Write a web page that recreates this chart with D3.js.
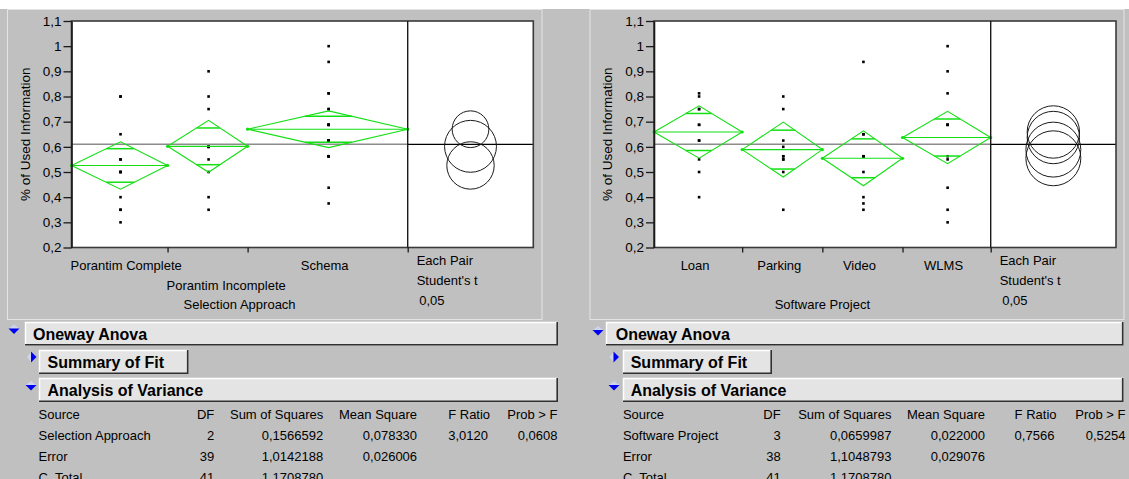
<!DOCTYPE html>
<html>
<head>
<meta charset="utf-8">
<script src="https://cdn.jsdelivr.net/npm/d3@7"></script>
<style>
  html, body { margin: 0; padding: 0; background: #c0c0c0; }
  svg { display: block; }
  text { font-family: "Liberation Sans", Arial, sans-serif; fill: #000; }
</style>
</head>
<body>
<svg id="chart" width="1129" height="479"></svg>
<script>
// ---- Selection Approach ----
const groupsA = ["Porantim Complete", "Porantim Incomplete", "Schema"];
const countsA = [12, 10, 20];
const meansA = [0.526, 0.602, 0.670];
const pointsA = [
  [0.8, 0.8, 0.65, 0.55, 0.55, 0.5, 0.5, 0.5, 0.4, 0.35, 0.35, 0.3],
  [0.9, 0.8, 0.75, 0.6, 0.6, 0.6, 0.55, 0.5, 0.4, 0.35],
  [1.0, 0.9375, 0.8125, 0.8125, 0.75, 0.75, 0.6875, 0.6875, 0.6875, 0.6875,
   0.625, 0.625, 0.625, 0.625, 0.5625, 0.5625, 0.5625, 0.5625, 0.4375, 0.375]
];
const mseA = 0.026006;
const tCritA = 2.0227;
const grandMeanA = 0.61;

// ---- Software Project ----
const groupsB = ["Loan", "Parking", "Video", "WLMS"];
const countsB = [11, 10, 10, 11];
const meansB = [0.659, 0.589, 0.5545, 0.637];
const pointsB = [
  [0.8125, 0.8, 0.75, 0.75, 0.6875, 0.6875, 0.625, 0.625, 0.55, 0.5, 0.4],
  [0.8, 0.75, 0.625, 0.6, 0.5625, 0.5625, 0.55, 0.55, 0.5, 0.35],
  [0.9375, 0.65, 0.65, 0.5625, 0.5625, 0.5625, 0.5, 0.4, 0.375, 0.35],
  [1.0, 0.9, 0.8125, 0.6875, 0.6875, 0.6875, 0.5625, 0.55, 0.4375, 0.35, 0.3]
];
const mseB = 0.029076;
const tCritB = 2.0244;
const grandMeanB = 0.61;

// ---- axis ticks ----
const yTicks = [0.2, 0.3, 0.4, 0.5, 0.6, 0.7, 0.8, 0.9, 1.0, 1.1];
const yTitle = "% of Used Information";
const compareLabels = ["Each Pair", "Student's t", "0,05"];

// ---- ANOVA tables ----
const anovaHeader = ["Source", "DF", "Sum of Squares", "Mean Square", "F Ratio", "Prob > F"];
const anovaRowsA = [
  ["Selection Approach", "2", "0,1566592", "0,078330", "3,0120", "0,0608"],
  ["Error", "39", "1,0142188", "0,026006", "", ""],
  ["C. Total", "41", "1,1708780", "", "", ""]
];
const anovaRowsB = [
  ["Software Project", "3", "0,0659987", "0,022000", "0,7566", "0,5254"],
  ["Error", "38", "1,1048793", "0,029076", "", ""],
  ["C. Total", "41", "1,1708780", "", "", ""]
];

const svg = d3.select("#chart");
const W = 1129, H = 479;
const GREEN = "#12e012";
const fmtComma = v => d3.format(".1~f")(v).replace(".", ",");

// page background
svg.append("rect").attr("width", W).attr("height", H).attr("fill", "#c0c0c0");
svg.append("rect").attr("width", W).attr("height", 9).attr("fill", "#ffffff");

function drawPanel(cfg) {
  const g = svg.append("g");
  // panel outline
  g.append("rect")
    .attr("x", cfg.frameX + 0.5).attr("y", 9.5)
    .attr("width", cfg.frameW).attr("height", 310)
    .attr("fill", "none").attr("stroke", "#e4e4e4").attr("stroke-width", 1);

  const top = 21, bottom = 247.5;
  const total = d3.sum(cfg.counts);
  const x = d3.scaleLinear().domain([0, total]).range([cfg.left, cfg.divider]);
  const y = d3.scaleLinear().domain([0.2, 1.1]).range([bottom, top]);

  // plot background
  g.append("rect")
    .attr("x", cfg.left).attr("y", top)
    .attr("width", cfg.right - cfg.left).attr("height", bottom - top)
    .attr("fill", "#ffffff");

  const cum = [0];
  cfg.counts.forEach((n, i) => cum.push(cum[i] + n));
  const cats = cfg.groups.map((name, i) => {
    const n = cfg.counts[i];
    const se = Math.sqrt(cfg.mse / n);
    const ci = cfg.tCrit * se;
    return {
      name, n, mean: cfg.means[i], ci,
      x0: x(cum[i]), x1: x(cum[i + 1]), xc: (x(cum[i]) + x(cum[i + 1])) / 2 + 1,
      pts: cfg.points[i]
    };
  });

  // grand mean line across the means plot
  g.append("line")
    .attr("x1", cfg.left).attr("x2", cfg.divider)
    .attr("y1", y(cfg.grand)).attr("y2", y(cfg.grand))
    .attr("stroke", "#8c8c8c").attr("stroke-width", 1.6);

  // data points
  cats.forEach(c => {
    g.append("g").selectAll("rect").data(c.pts).join("rect")
      .attr("x", c.xc - 1.3).attr("y", d => y(d) - 1.3)
      .attr("width", 2.6).attr("height", 2.6).attr("fill", "#000");
  });

  // means diamonds with overlap marks
  cats.forEach(c => {
    const ym = y(c.mean), yt = y(c.mean + c.ci), yb = y(c.mean - c.ci);
    const dg = g.append("g").attr("stroke", GREEN).attr("fill", "none").attr("stroke-width", 1.1);
    dg.append("path").attr("d", d3.line()([[c.x0, ym], [c.xc, yt], [c.x1, ym], [c.xc, yb], [c.x0, ym]]));
    dg.append("line").attr("x1", c.x0).attr("x2", c.x1).attr("y1", ym).attr("y2", ym);
    const k = 1 / Math.SQRT2;
    const halfL = (c.xc - c.x0) * (1 - k), halfR = (c.x1 - c.xc) * (1 - k);
    [c.mean + c.ci * k, c.mean - c.ci * k].forEach(v => {
      dg.append("line")
        .attr("x1", c.xc - halfL).attr("x2", c.xc + halfR)
        .attr("y1", y(v)).attr("y2", y(v)).attr("stroke-width", 1.5);
    });
    [c.x0, c.x1].forEach(px => {
      g.append("circle").attr("cx", px).attr("cy", ym).attr("r", 1.6).attr("fill", GREEN);
    });
  });

  // comparison circles
  const cx = (cfg.divider + cfg.right) / 2;
  g.append("line")
    .attr("x1", cfg.divider).attr("x2", cfg.right)
    .attr("y1", y(cfg.grand)).attr("y2", y(cfg.grand))
    .attr("stroke", "#000").attr("stroke-width", 1.2);
  g.append("g").selectAll("circle").data(cats).join("circle")
    .attr("cx", cx).attr("cy", d => y(d.mean))
    .attr("r", d => Math.abs(y(d.mean + d.ci) - y(d.mean)))
    .attr("fill", "none").attr("stroke", "#1a1a1a").attr("stroke-width", 1);

  // frame and divider
  g.append("rect")
    .attr("x", cfg.left).attr("y", top)
    .attr("width", cfg.right - cfg.left).attr("height", bottom - top)
    .attr("fill", "none").attr("stroke", "#3a3a3a").attr("stroke-width", 1.6);
  g.append("line")
    .attr("x1", cfg.divider).attr("x2", cfg.divider).attr("y1", top).attr("y2", bottom)
    .attr("stroke", "#1a1a1a").attr("stroke-width", 1.4);

  // y axis
  const yAxis = d3.axisLeft(y).tickValues(yTicks).tickFormat(fmtComma)
    .tickSize(8).tickSizeOuter(0).tickPadding(2);
  const ya = g.append("g").attr("transform", `translate(${cfg.left},0)`).call(yAxis);
  ya.select(".domain").attr("stroke", "#1a1a1a").attr("stroke-width", 1.6);
  ya.selectAll(".tick line").attr("stroke", "#1a1a1a").attr("stroke-width", 1.3);
  ya.selectAll(".tick text").attr("font-size", 13.5).attr("fill", "#000")
    .attr("font-family", "Liberation Sans, Arial, sans-serif");

  // x axis ticks at group boundaries
  const xAxis = d3.axisBottom(x).tickValues(cum.slice(1)).tickFormat("")
    .tickSize(5).tickSizeOuter(0);
  const xa = g.append("g").attr("transform", `translate(0,${bottom})`).call(xAxis);
  xa.select(".domain").remove();
  xa.selectAll(".tick line").attr("stroke", "#1a1a1a").attr("stroke-width", 1.3);

  // y title
  g.append("text")
    .attr("transform", `translate(${cfg.yTitleX},${(top + bottom) / 2}) rotate(-90)`)
    .attr("text-anchor", "middle").attr("font-size", 13.5).text(yTitle);

  // category labels (left edge kept inside its group, staggered when crowded)
  let prevRight = -Infinity;
  cats.forEach(c => {
    const t = g.append("text").attr("font-size", 13).text(c.name);
    const w = t.node().getComputedTextLength();
    const left = Math.max(c.xc - 4 - w / 2, c.x0 - 1);
    const row = left < prevRight + 2 ? 1 : 0;
    t.attr("x", left).attr("y", row ? 289.5 : 269.5);
    if (!row) prevRight = left + w;
  });

  // axis title
  g.append("text")
    .attr("x", (cfg.left + cfg.divider) / 2).attr("y", 308.5)
    .attr("text-anchor", "middle").attr("font-size", 13).text(cfg.xTitle);

  // comparison circle captions
  compareLabels.forEach((s, i) => {
    g.append("text")
      .attr("x", cfg.divider + 9 + (i === 2 ? 2.5 : 0)).attr("y", 264.5 + i * 20)
      .attr("font-size", 13).text(s);
  });
}

drawPanel({
  frameX: 7, frameW: 534.5, left: 71.5, divider: 407.7, right: 533.3, yTitleX: 30,
  groups: groupsA, counts: countsA, means: meansA, points: pointsA,
  mse: mseA, tCrit: tCritA, grand: grandMeanA, xTitle: "Selection Approach"
});
drawPanel({
  frameX: 589.5, frameW: 534, left: 654, divider: 990.7, right: 1116, yTitleX: 612,
  groups: groupsB, counts: countsB, means: meansB, points: pointsB,
  mse: mseB, tCrit: tCritB, grand: grandMeanB, xTitle: "Software Project"
});

// ---- report section ----
function bar(x0, x1, y0, y1, label, tx, ty) {
  const g = svg.append("g");
  g.append("rect").attr("x", x0).attr("y", y0).attr("width", x1 - x0).attr("height", y1 - y0)
    .attr("fill", "#e4e4e4");
  g.append("path").attr("d", `M${x0 + 0.5},${y1}V${y0 + 0.5}H${x1}`)
    .attr("fill", "none").attr("stroke", "#ffffff").attr("stroke-width", 1.5);
  g.append("path").attr("d", `M${x0},${y1 - 0.8}H${x1 - 0.8}V${y0}`)
    .attr("fill", "none").attr("stroke", "#303030").attr("stroke-width", 1.6);
  g.append("text").attr("x", tx).attr("y", ty).attr("font-size", 16)
    .attr("font-weight", "bold").text(label);
}
function iconDown(cx, cy) {
  svg.append("path").attr("d", `M${cx - 5},${cy}L${cx + 5},${cy}L${cx},${cy - 4}Z`).attr("fill", "#cfd4ee");
  svg.append("path").attr("d", `M${cx - 5.5},${cy}L${cx + 5.5},${cy}L${cx},${cy + 5.5}Z`).attr("fill", "#0000f0");
}
function iconRight(cx, cy) {
  svg.append("path").attr("d", `M${cx},${cy - 5}L${cx},${cy + 5}L${cx - 4},${cy}Z`).attr("fill", "#cfd4ee");
  svg.append("path").attr("d", `M${cx},${cy - 5.5}L${cx},${cy + 5.5}L${cx + 5.5},${cy}Z`).attr("fill", "#0000f0");
}
function table(cols, rows) {
  const all = [anovaHeader].concat(rows);
  all.forEach((r, ri) => {
    r.forEach((s, ci) => {
      if (!s) return;
      svg.append("text").attr("x", cols[ci][0]).attr("y", 418.5 + ri * 21.3)
        .attr("text-anchor", cols[ci][1]).attr("font-size", 13).text(s);
    });
  });
}

bar(25, 558, 322, 345.5, "Oneway Anova", 33, 340);
bar(39, 188.5, 350, 374, "Summary of Fit", 47.5, 368);
bar(39, 558, 378, 402, "Analysis of Variance", 47.5, 396);
iconDown(14, 328.5); iconRight(31, 357); iconDown(31, 385);
table([[38.6, "start"], [214.3, "end"], [323.2, "end"], [417.1, "end"], [448.2, "start"], [557.5, "end"]], anovaRowsA);

bar(606, 1123.5, 322, 345.5, "Oneway Anova", 615.7, 340);
bar(623, 772, 350, 374, "Summary of Fit", 630.7, 368);
bar(623, 1123.5, 378, 402, "Analysis of Variance", 630.7, 396);
iconDown(598, 330); iconRight(613.5, 357); iconDown(614, 385);
table([[622.9, "start"], [780.7, "end"], [891.4, "end"], [985, "end"], [1014.6, "start"], [1125.5, "end"]], anovaRowsB);
</script>
</body>
</html>
